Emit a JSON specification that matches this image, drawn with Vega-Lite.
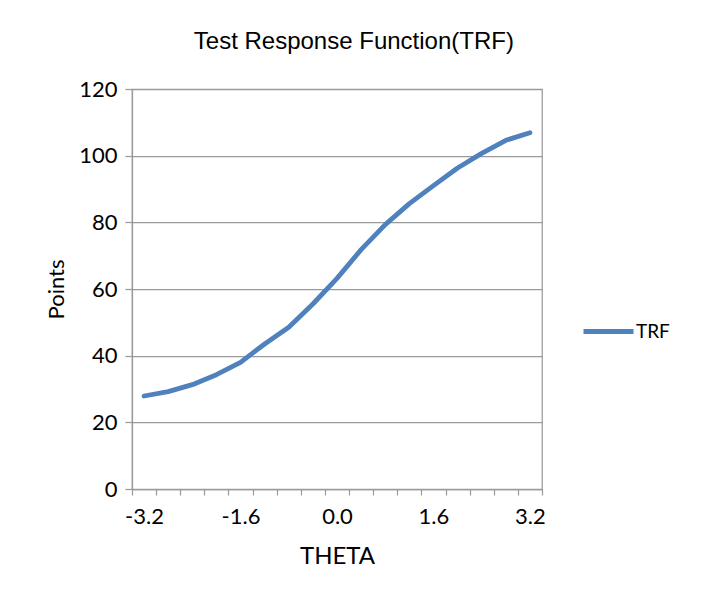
{
  "$schema": "https://vega.github.io/schema/vega-lite/v6.json",
  "width": 410,
  "height": 400,
  "autosize": {"type": "none"},
  "padding": {"left": 132, "top": 89, "right": 166, "bottom": 120},
  "background": "white",
  "title": {
    "text": "Test Response Function(TRF)",
    "font": "Liberation Sans",
    "fontSize": 24,
    "fontWeight": "normal",
    "color": "#000000",
    "anchor": "middle",
    "frame": "bounds",
    "baseline": "alphabetic",
    "offset": 5,
    "dx": -4
  },
  "data": {
    "values": [
      {"theta": "-3.2", "points": 27.9, "series": "TRF"},
      {"theta": "-2.8", "points": 29.2, "series": "TRF"},
      {"theta": "-2.4", "points": 31.3, "series": "TRF"},
      {"theta": "-2.0", "points": 34.3, "series": "TRF"},
      {"theta": "-1.6", "points": 38.0, "series": "TRF"},
      {"theta": "-1.2", "points": 43.5, "series": "TRF"},
      {"theta": "-0.8", "points": 48.5, "series": "TRF"},
      {"theta": "-0.4", "points": 55.5, "series": "TRF"},
      {"theta": "0.0", "points": 63.2, "series": "TRF"},
      {"theta": "0.4", "points": 71.8, "series": "TRF"},
      {"theta": "0.8", "points": 79.3, "series": "TRF"},
      {"theta": "1.2", "points": 85.6, "series": "TRF"},
      {"theta": "1.6", "points": 91.0, "series": "TRF"},
      {"theta": "2.0", "points": 96.3, "series": "TRF"},
      {"theta": "2.4", "points": 100.7, "series": "TRF"},
      {"theta": "2.8", "points": 104.6, "series": "TRF"},
      {"theta": "3.2", "points": 106.9, "series": "TRF"}
    ]
  },
  "mark": {"type": "line", "strokeWidth": 4.8, "strokeCap": "round", "strokeJoin": "round"},
  "encoding": {
    "x": {
      "field": "theta",
      "type": "ordinal",
      "sort": null,
      "bandPosition": 0.5,
      "scale": {"type": "band", "paddingInner": 0, "paddingOuter": 0},
      "axis": {
        "title": "THETA",
        "tickBand": "extent",
        "labelExpr": "indexof(['-3.2','-1.6','0.0','1.6','3.2'], datum.value) >= 0 ? datum.value : ''",
        "labelAngle": 0,
        "labelOverlap": false,
        "labelFont": "Lato",
        "labelFontSize": 22,
        "labelColor": "#000000",
        "labelPadding": 11,
        "tickSize": 6,
        "tickColor": "#9a9a9a",
        "tickWidth": 1.25,
        "domainColor": "#9a9a9a",
        "domainWidth": 1.25,
        "grid": false,
        "titleFont": "Lato",
        "titleFontSize": 24,
        "titleFontWeight": "normal",
        "titleColor": "#000000",
        "titlePadding": 17
      }
    },
    "y": {
      "field": "points",
      "type": "quantitative",
      "scale": {"domain": [0, 120]},
      "axis": {
        "title": "Points",
        "values": [0, 20, 40, 60, 80, 100, 120],
        "grid": true,
        "gridColor": "#9a9a9a",
        "gridWidth": 1.25,
        "tickSize": 7,
        "tickColor": "#9a9a9a",
        "tickWidth": 1.25,
        "domainColor": "#9a9a9a",
        "domainWidth": 1.25,
        "labelFont": "Lato",
        "labelFontSize": 22,
        "labelColor": "#000000",
        "labelPadding": 8,
        "titleFont": "Lato",
        "titleFontSize": 22,
        "titleFontWeight": "normal",
        "titleColor": "#000000",
        "titlePadding": 10
      }
    },
    "color": {
      "field": "series",
      "type": "nominal",
      "scale": {"range": ["#4F81BD"]},
      "legend": {
        "title": null,
        "orient": "none",
        "legendX": 449,
        "legendY": 215,
        "symbolType": "stroke",
        "symbolSize": 2500,
        "symbolStrokeWidth": 4.8,
        "labelFont": "Lato",
        "labelFontSize": 19,
        "labelColor": "#000000",
        "labelOffset": 0
      }
    }
  },
  "config": {"view": {"stroke": "#9a9a9a", "strokeWidth": 1.25}}
}
